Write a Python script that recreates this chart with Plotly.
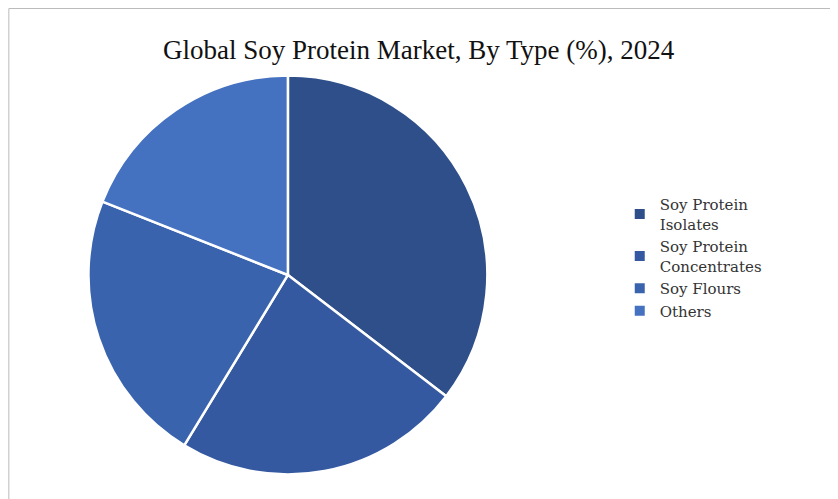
import plotly.graph_objects as go

labels = ["Soy Protein<br>Isolates", "Soy Protein<br>Concentrates", "Soy Flours", "Others"]
values = [35.4, 23.3, 22.3, 19.0]
colors = ["#2F4F8A", "#3459A0", "#3A63AD", "#4471C0"]

fig = go.Figure(go.Pie(
    labels=labels, values=values, sort=False, direction="clockwise", rotation=0,
    marker=dict(colors=colors, line=dict(color="white", width=2.5)),
    textinfo="none", hoverinfo="label+percent",
    domain=dict(x=[0.096, 0.572], y=[0.065, 0.865]),
))
fig.update_layout(
    width=838, height=499,
    paper_bgcolor="white", plot_bgcolor="white",
    margin=dict(l=0, r=0, t=0, b=0),
    title=dict(text="Global Soy Protein Market, By Type (%), 2024", x=0.49, y=0.935,
               xanchor="center", font=dict(family="Liberation Serif, serif", size=27, color="#111")),
    legend=dict(x=0.73, y=0.5, yanchor="middle", font=dict(family="DejaVu Serif, serif", size=15, color="#333"),
                itemwidth=30, itemsizing="constant"),
    shapes=[dict(type="rect", xref="paper", yref="paper", x0=0.001, y0=0.001, x1=0.999, y1=0.999,
                 line=dict(color="#BBBBBB", width=1))],
)
fig.write_html("out.html")
